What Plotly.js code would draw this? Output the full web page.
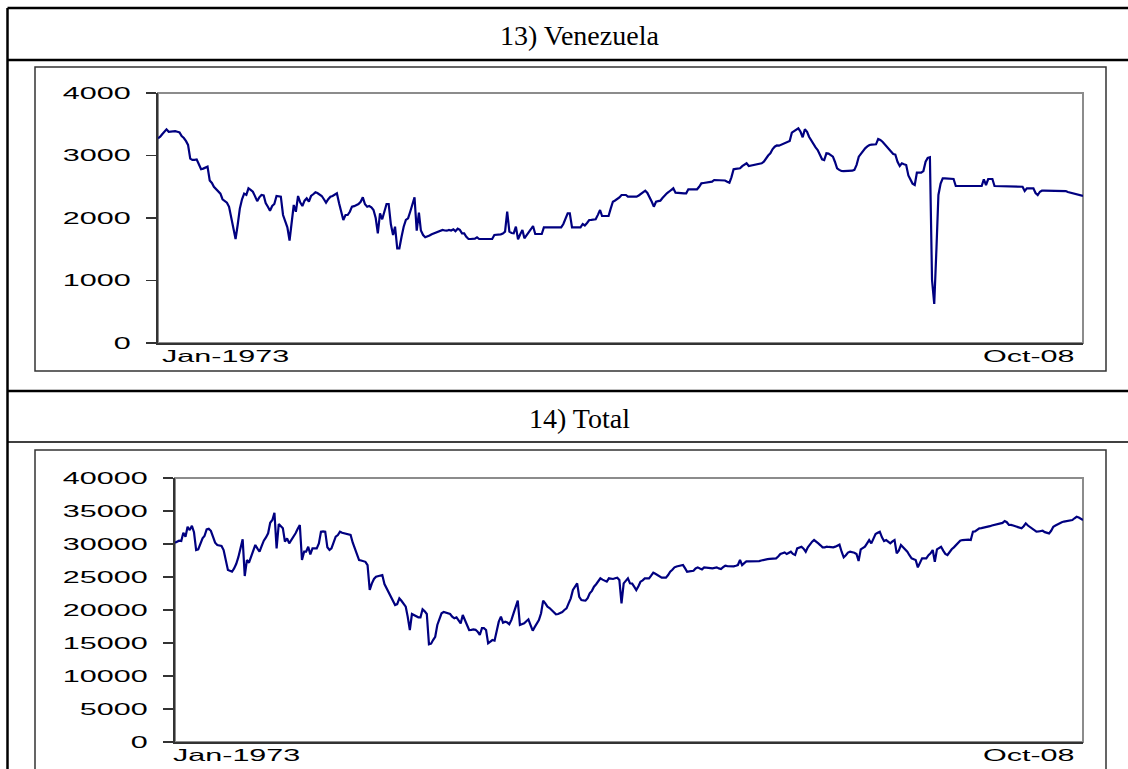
<!DOCTYPE html>
<html><head><meta charset="utf-8">
<script src="https://cdn.plot.ly/plotly-3.0.1.min.js"></script>
<style>html,body{margin:0;padding:0;background:#fff;} #chart{width:1128px;height:769px;}</style>
</head><body><div id="chart"></div>
<script>
const startYear = 1973;
const panelTitles = ['13) Venezuela', '14) Total'];
const xLabels = ['Jan-1973', 'Oct-08'];
const yTicksVenezuela = [0, 1000, 2000, 3000, 4000];
const yTicksTotal = [0, 5000, 10000, 15000, 20000, 25000, 30000, 35000, 40000];

// monthly values, Jan-1973 .. Oct-2008, one row per year
const venezuela = [
 3275, 3300, 3340, 3390, 3419, 3380, 3385, 3380, 3390, 3380, 3370, 3310,
 3280, 3230, 3170, 2950, 2930, 2930, 2936, 2860, 2780, 2790, 2800, 2821,
 2600, 2560, 2500, 2460, 2420, 2390, 2300, 2270, 2245, 2180, 2020, 1860,
 1664, 1900, 2150, 2300, 2390, 2370, 2475, 2450, 2421, 2350, 2270, 2330,
 2368, 2360, 2240, 2180, 2117, 2192, 2224, 2352, 2345, 2341, 2048, 1960,
 1850, 1640, 1950, 2208, 2100, 2352, 2250, 2192, 2277, 2315, 2261, 2352,
 2380, 2411, 2400, 2370, 2352, 2300, 2245, 2300, 2341, 2352, 2370, 2395,
 2235, 2100, 1968, 2048, 2048, 2100, 2181, 2190, 2208, 2224, 2260, 2331,
 2220, 2181, 2192, 2170, 2128, 2000, 1755, 2075, 1979, 2100, 2224, 2224,
 1900, 1728, 1861, 1515, 1515, 1700, 1861, 1968, 1995, 2100, 2208, 2331,
 1797, 2085, 1800, 1728, 1691, 1701, 1720, 1740, 1755, 1770, 1781, 1795,
 1808, 1800, 1797, 1810, 1800, 1819, 1790, 1829, 1810, 1755, 1755, 1700,
 1664, 1664, 1664, 1670, 1691, 1664, 1664, 1664, 1664, 1664, 1664, 1664,
 1728, 1730, 1735, 1739, 1750, 1781, 2101, 1781, 1760, 1755, 1861, 1659,
 1740, 1808, 1675, 1720, 1781, 1820, 1872, 1744, 1744, 1744, 1744, 1851,
 1851, 1851, 1851, 1851, 1851, 1851, 1851, 1851, 1904, 2000, 2075, 2075,
 1851, 1851, 1851, 1851, 1851, 1904, 1880, 1920, 1968, 1970, 1975, 1979,
 2050, 2128, 2032, 2032, 2032, 2032, 2150, 2261, 2280, 2299, 2330, 2368,
 2368, 2368, 2341, 2341, 2341, 2341, 2341, 2360, 2384, 2410, 2437, 2400,
 2341, 2260, 2181, 2261, 2270, 2277, 2320, 2360, 2395, 2420, 2450, 2475,
 2405, 2400, 2400, 2400, 2395, 2395, 2459, 2459, 2459, 2459, 2459, 2500,
 2555, 2560, 2565, 2570, 2575, 2581, 2608, 2608, 2608, 2608, 2608, 2600,
 2580, 2565, 2650, 2779, 2785, 2790, 2795, 2830, 2860, 2875, 2832, 2840,
 2845, 2855, 2865, 2870, 2875, 2900, 2955, 3000, 3035, 3100, 3141, 3160,
 3157, 3170, 3185, 3200, 3215, 3232, 3365, 3390, 3410, 3435, 3380, 3291,
 3420, 3380, 3300, 3237, 3200, 3130, 3088, 3000, 2940, 2928, 3035, 3030,
 3010, 2981, 2900, 2795, 2770, 2752, 2750, 2750, 2752, 2755, 2757, 2770,
 2850, 2981, 3030, 3080, 3115, 3145, 3168, 3175, 3179, 3179, 3264, 3250,
 3220, 3180, 3141, 3090, 3050, 3024, 3015, 2900, 2832, 2875, 2860, 2848,
 2680, 2600, 2550, 2528, 2725, 2725, 2725, 2750, 2900, 2960, 2971, 1008,
 624, 1500, 2368, 2550, 2635, 2635, 2630, 2625, 2624, 2624, 2512, 2512,
 2512, 2512, 2512, 2512, 2512, 2512, 2512, 2512, 2512, 2512, 2512, 2619,
 2528, 2624, 2624, 2624, 2512, 2512, 2512, 2512, 2512, 2512, 2512, 2512,
 2512, 2512, 2512, 2512, 2512, 2500, 2432, 2475, 2475, 2475, 2475, 2400,
 2368, 2420, 2437, 2437, 2437, 2437, 2437, 2437, 2437, 2437, 2437, 2437,
 2437, 2430, 2415, 2405, 2395, 2385, 2375, 2365, 2358, 2352
];

const total = [
 30200, 30400, 30500, 30450, 31700, 31100, 32600, 32100, 32770, 31800, 29090, 29200,
 30200, 30860, 31210, 32220, 32300, 32000, 31100, 30200, 29850, 29800, 29700, 29090,
 27500, 26060, 25950, 25800, 26300, 27000, 28000, 29200, 30710, 25150, 27570, 27160,
 28000, 28900, 29850, 29300, 28830, 29700, 30500, 31000, 31620, 33230, 33630, 34740,
 29340, 33030, 32700, 32370, 30350, 30860, 30100, 30600, 31100, 31620, 32300, 32880,
 27570, 28830, 28830, 29590, 28420, 29340, 29340, 29340, 30100, 31860, 31900, 31860,
 29500, 29090, 29340, 30200, 31100, 31360, 31860, 31700, 31600, 31500, 31400, 31360,
 30200, 29300, 28400, 27570, 27500, 27430, 27300, 26810, 23030, 24000, 24700, 25040,
 25100, 25200, 25300, 23940, 23300, 22700, 22010, 21500, 20760, 20900, 21770, 21400,
 20900, 20500, 19000, 16970, 19390, 19200, 18990, 18890, 18890, 20100, 19800, 19400,
 14800, 14900, 15450, 15950, 17730, 18600, 19500, 19700, 19590, 19500, 19390, 19000,
 18740, 18890, 18400, 17970, 19240, 18500, 17600, 16970, 17000, 17070, 17000, 16710,
 16210, 17240, 17240, 16970, 14950, 15200, 15450, 15350, 16700, 18230, 18990, 18080,
 18230, 18100, 17850, 18500, 19500, 20400, 21410, 17730, 17800, 17980, 18300, 18590,
 17700, 16860, 17400, 17980, 18480, 19500, 21410, 21000, 20500, 20300, 20000, 19700,
 19340, 19400, 19500, 19700, 20000, 20250, 21000, 21770, 23030, 23500, 24040, 22000,
 21510, 21450, 21410, 21800, 22520, 22900, 23530, 23900, 24300, 24800, 24600, 24400,
 24290, 24800, 24750, 24700, 24800, 24900, 24540, 21010, 24040, 24400, 24800, 24040,
 24000, 23500, 23030, 23600, 24290, 24500, 24790, 24790, 24790, 25200, 25650, 25500,
 25300, 25100, 24900, 24900, 24900, 25300, 25800, 26100, 26460, 26600, 26700, 26810,
 26810, 26300, 25800, 25850, 25900, 25950, 26300, 26460, 26300, 26160, 26460, 26460,
 26400, 26350, 26310, 26400, 26460, 26300, 26210, 26500, 26710, 26650, 26600, 26610,
 26610, 26700, 26810, 27570, 26800, 27100, 27370, 27370, 27370, 27370, 27390, 27400,
 27420, 27500, 27600, 27680, 27700, 27750, 27780, 27800, 27820, 28100, 28480, 28600,
 28730, 28480, 28600, 28830, 28500, 28330, 29340, 29500, 29590, 29300, 28830, 29500,
 30000, 30350, 30600, 30400, 30100, 29800, 29490, 29500, 29590, 29550, 29500, 29490,
 29600, 29800, 29900, 28830, 27980, 28300, 28700, 28830, 28750, 28680, 28480, 27420,
 29190, 29400, 29590, 30100, 30600, 30100, 30800, 31510, 31700, 31860, 31000, 30450,
 30600, 30300, 30100, 30400, 30600, 28580, 29000, 29850, 29500, 29200, 28830, 28300,
 27830, 27700, 27570, 26460, 27100, 27830, 27830, 27830, 28300, 28580, 29090, 27320,
 29190, 29400, 29590, 29000, 28500, 28330, 28800, 29200, 29490, 29800, 30200, 30500,
 30600, 30650, 30710, 30650, 30600, 31860, 31900, 32100, 32370, 32400, 32450, 32530,
 32600, 32700, 32800, 32880, 32950, 33030, 33030, 33200, 33480, 33300, 32880, 32900,
 32800, 32700, 32620, 32500, 32370, 32700, 33130, 32800, 32530, 32300, 32100, 31860,
 31900, 31950, 32010, 31800, 31700, 31610, 32000, 32620, 32800, 33000, 33230, 33300,
 33400, 33480, 33550, 33600, 33630, 33900, 34130, 34000, 33800, 33630
];

const months = venezuela.map((_, i) => {
  const y = startYear + Math.floor(i / 12);
  const m = (i % 12) + 1;
  return y + '-' + String(m).padStart(2, '0') + '-01';
});

const W = 1128, H = 769;
const fx = p => p / W;
const fy = p => 1 - p / H;
const tickFont = {family: 'Liberation Sans, Arial, sans-serif', size: 16.5, color: '#000'};
const titleFont = {family: 'Liberation Serif, Times New Roman, serif', size: 28, color: '#000'};
const navy = '#000080';
const STRETCH = 1.85;

const traces = [
  {x: months, y: venezuela, type: 'scatter', mode: 'lines', line: {color: navy, width: 2.2}, xaxis: 'x', yaxis: 'y', hoverinfo: 'skip'},
  {x: months, y: total, type: 'scatter', mode: 'lines', line: {color: navy, width: 2.2}, xaxis: 'x2', yaxis: 'y2', hoverinfo: 'skip'}
];

function xAx(dom, anchor) {
  return {domain: dom, anchor: anchor, type: 'date', range: [months[0], months[months.length - 1]],
    showticklabels: false, ticks: '', showgrid: false, zeroline: false,
    showline: true, linecolor: '#333', linewidth: 2, fixedrange: true};
}
function yAx(dom, anchor, vals) {
  return {domain: dom, anchor: anchor, range: [0, vals[vals.length - 1]], tickvals: vals,
    ticktext: vals.map(String), ticks: 'outside', ticklen: 10, tickwidth: 1.5, tickcolor: '#333',
    showgrid: false, zeroline: false, showline: true, linecolor: '#333', linewidth: 2,
    tickfont: tickFont, ticklabelstandoff: 12, fixedrange: true};
}

const frame = {type: 'line', xref: 'paper', yref: 'paper', line: {color: '#000', width: 2.5}};
const shapes = [
  {type: 'rect', xref: 'x domain', yref: 'y domain', x0: 0, x1: 1, y0: 0, y1: 1, line: {color: '#8c8c8c', width: 2}, layer: 'below'},
  {type: 'rect', xref: 'x2 domain', yref: 'y2 domain', x0: 0, x1: 1, y0: 0, y1: 1, line: {color: '#8c8c8c', width: 2}, layer: 'below'},
  {type: 'rect', xref: 'paper', yref: 'paper', x0: fx(35), x1: fx(1106), y0: fy(371), y1: fy(67), line: {color: '#333', width: 1.5}, layer: 'below'},
  {type: 'rect', xref: 'paper', yref: 'paper', x0: fx(35), x1: fx(1106), y0: fy(790), y1: fy(450), line: {color: '#333', width: 1.5}, layer: 'below'},
  Object.assign({}, frame, {x0: fx(7.5), x1: 1.02, y0: fy(8), y1: fy(8)}),
  Object.assign({}, frame, {x0: fx(7.5), x1: 1.02, y0: fy(60), y1: fy(60)}),
  Object.assign({}, frame, {x0: fx(7.5), x1: 1.02, y0: fy(391), y1: fy(391)}),
  Object.assign({}, frame, {x0: fx(7.5), x1: 1.02, y0: fy(442), y1: fy(442), line: {color: '#000', width: 1.5}}),
  Object.assign({}, frame, {x0: fx(7.5), x1: fx(7.5), y0: fy(8), y1: -0.05})
];

const annotations = [
  {text: panelTitles[0], xref: 'paper', yref: 'paper', x: fx(579), y: fy(36), xanchor: 'center', yanchor: 'middle', showarrow: false, font: titleFont},
  {text: panelTitles[1], xref: 'paper', yref: 'paper', x: fx(579), y: fy(418), xanchor: 'center', yanchor: 'middle', showarrow: false, font: titleFont},
  {text: xLabels[0], xref: 'x', yref: 'y domain', x: months[0], y: 0, xanchor: 'left', yanchor: 'top', xshift: 2, yshift: -2, showarrow: false, font: tickFont},
  {text: xLabels[1], xref: 'x', yref: 'y domain', x: months[months.length - 1], y: 0, xanchor: 'right', yanchor: 'top', xshift: -6, yshift: -2, showarrow: false, font: tickFont},
  {text: xLabels[0], xref: 'x2', yref: 'y2 domain', x: months[0], y: 0, xanchor: 'left', yanchor: 'top', xshift: -4, yshift: -2, showarrow: false, font: tickFont},
  {text: xLabels[1], xref: 'x2', yref: 'y2 domain', x: months[months.length - 1], y: 0, xanchor: 'right', yanchor: 'top', xshift: -6, yshift: -2, showarrow: false, font: tickFont}
];

const layout = {
  width: W, height: H, margin: {l: 0, r: 0, t: 0, b: 0},
  paper_bgcolor: '#fff', plot_bgcolor: 'rgba(0,0,0,0)', showlegend: false,
  xaxis: xAx([fx(158), fx(1083)], 'y'),
  yaxis: yAx([fy(343), fy(93)], 'x', yTicksVenezuela),
  xaxis2: xAx([fx(175), fx(1083)], 'y2'),
  yaxis2: yAx([fy(742), fy(478)], 'x2', yTicksTotal),
  shapes: shapes, annotations: annotations
};

function stretch(el, f, edge) {
  const b = el.getBBox();
  const ax = edge === 'left' ? b.x : (edge === 'right' ? b.x + b.width : b.x + b.width / 2);
  const t = el.getAttribute('transform') || '';
  el.setAttribute('transform', t + ' translate(' + ax + ',0) scale(' + f + ',1) translate(' + (-ax) + ',0)');
}

const gd = document.getElementById('chart');
Plotly.newPlot(gd, traces, layout, {staticPlot: true, displayModeBar: false}).then(() => {
  gd.querySelectorAll('g.ytick text, g.y2tick text').forEach(el => stretch(el, STRETCH, 'right'));
  [2, 4].forEach(i => { const el = gd.querySelector('g.annotation[data-index="' + i + '"] text'); if (el) stretch(el, STRETCH, 'left'); });
  [3, 5].forEach(i => { const el = gd.querySelector('g.annotation[data-index="' + i + '"] text'); if (el) stretch(el, STRETCH, 'right'); });
});
</script>
</body></html>
